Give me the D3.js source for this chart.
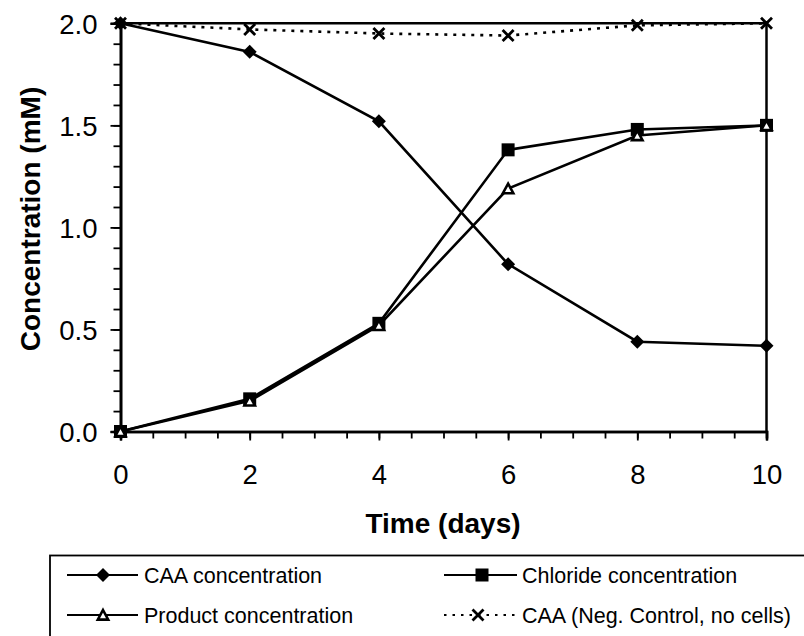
<!DOCTYPE html>
<html>
<head>
<meta charset="utf-8">
<script src="https://cdn.jsdelivr.net/npm/d3@7"></script>
<style>
  html, body { margin: 0; padding: 0; background: #fff; }
  svg { display: block; font-family: "Liberation Sans", Arial, sans-serif; }
</style>
</head>
<body>
<svg id="chart" width="804" height="636"></svg>
<script>
// ---- data ----
const days = [0, 2, 4, 6, 8, 10];
const caa = [2.00, 1.86, 1.52, 0.82, 0.44, 0.42];
const chloride = [0.00, 0.16, 0.53, 1.38, 1.48, 1.50];
const product = [0.00, 0.15, 0.52, 1.19, 1.45, 1.50];
const negControl = [2.00, 1.97, 1.95, 1.94, 1.99, 2.00];
const seriesNames = ["CAA concentration", "Chloride concentration", "Product concentration", "CAA (Neg. Control, no cells)"];
const xTicks = [0, 2, 4, 6, 8, 10];
const xMinorTicks = [0, 0.5, 1, 1.5, 2, 2.5, 3, 3.5, 4, 4.5, 5, 5.5, 6, 6.5, 7, 7.5, 8, 8.5, 9, 9.5, 10];
const yTicks = [0.0, 0.5, 1.0, 1.5, 2.0];
const yMinorTicks = [0, 0.1, 0.2, 0.3, 0.4, 0.5, 0.6, 0.7, 0.8, 0.9, 1.0, 1.1, 1.2, 1.3, 1.4, 1.5, 1.6, 1.7, 1.8, 1.9, 2.0];
const xTitle = "Time (days)";
const yTitle = "Concentration (mM)";

// ---- layout ----
const svg = d3.select("#chart");
svg.append("rect").attr("width", 804).attr("height", 636).attr("fill", "#fff");

const x = d3.scaleLinear().domain([0, 10]).range([120.5, 766.5]);
const y = d3.scaleLinear().domain([0, 2]).range([431.5, 23.3]);

const series = [
  { name: seriesNames[0], values: caa, marker: "diamond", dash: null },
  { name: seriesNames[1], values: chloride, marker: "square", dash: null },
  { name: seriesNames[2], values: product, marker: "triangle", dash: null },
  { name: seriesNames[3], values: negControl, marker: "cross", dash: "3,6" }
];

function drawMarker(g, type) {
  if (type === "diamond") {
    g.append("path").attr("d", "M0,-7L7,0L0,7L-7,0Z").attr("fill", "#000");
  } else if (type === "square") {
    g.append("rect").attr("x", -6.5).attr("y", -6.5).attr("width", 13).attr("height", 13).attr("fill", "#000");
  } else if (type === "triangle") {
    g.append("path").attr("d", "M0,-5L5.2,4.6L-5.2,4.6Z").attr("fill", "#fff")
      .attr("stroke", "#000").attr("stroke-width", 2.6).attr("stroke-linejoin", "miter");
  } else if (type === "cross") {
    g.append("path").attr("d", "M-5.5,-5.5L5.5,5.5M-5.5,5.5L5.5,-5.5").attr("fill", "none")
      .attr("stroke", "#000").attr("stroke-width", 2.8);
  }
}

// ---- frame (top & right) ----
svg.append("line").attr("x1", x(0)).attr("x2", x(10)).attr("y1", y(2)).attr("y2", y(2))
  .attr("stroke", "#000").attr("stroke-width", 2.5);
svg.append("line").attr("x1", x(10)).attr("x2", x(10)).attr("y1", y(2)).attr("y2", y(0))
  .attr("stroke", "#000").attr("stroke-width", 2.5);

// ---- axes ----
const xMinorAxis = d3.axisBottom(x).tickValues(xMinorTicks).tickSize(7).tickFormat("");
const xAxis = d3.axisBottom(x).tickValues(xTicks).tickSize(9).tickPadding(24).tickFormat(d3.format("d"));
const yMinorAxis = d3.axisLeft(y).tickValues(yMinorTicks).tickSize(7).tickFormat("");
const yAxis = d3.axisLeft(y).tickValues(yTicks).tickSize(10).tickPadding(13).tickFormat(d3.format(".1f"));

function styleAxis(g) {
  g.select(".domain").attr("stroke", "#000").attr("stroke-width", 2.6);
  g.selectAll(".tick line").attr("stroke", "#000").attr("stroke-width", 1.8);
  g.selectAll(".tick text").attr("fill", "#000").style("font-size", "27.5px")
    .style("font-family", "'Liberation Sans', Arial, sans-serif");
}

svg.append("g").attr("transform", `translate(0,${y(0)})`).call(xMinorAxis).call(styleAxis);
svg.append("g").attr("transform", `translate(0,${y(0)})`).call(xAxis).call(styleAxis)
  .selectAll(".tick text").attr("dy", "0").attr("y", 52.5);
svg.append("g").attr("transform", `translate(${x(0)},0)`).call(yMinorAxis).call(styleAxis);
svg.append("g").attr("transform", `translate(${x(0)},0)`).call(yAxis).call(styleAxis)
  .selectAll(".tick text").attr("dy", "0.36em").attr("x", -23);

// axis titles
svg.append("text").attr("x", 443).attr("y", 533).attr("text-anchor", "middle")
  .style("font-size", "28px").style("font-weight", "bold").text(xTitle);
svg.append("text").attr("transform", "translate(40,219) rotate(-90)").attr("text-anchor", "middle")
  .style("font-size", "28px").style("font-weight", "bold").text(yTitle);

// ---- lines ----
const line = d3.line().x((d, i) => x(days[i])).y(d => y(d));
series.forEach(s => {
  svg.append("path").datum(s.values).attr("d", line).attr("fill", "none")
    .attr("stroke", "#000").attr("stroke-width", 2.6)
    .attr("stroke-dasharray", s.dash);
});

// ---- markers ----
series.forEach(s => {
  s.values.forEach((v, i) => {
    const g = svg.append("g").attr("transform", `translate(${x(days[i])},${y(v)})`);
    drawMarker(g, s.marker);
  });
});

// ---- legend ----
svg.append("rect").attr("x", 50).attr("y", 555.5).attr("width", 800).attr("height", 120)
  .attr("fill", "none").attr("stroke", "#000").attr("stroke-width", 1.8);

const legendPos = [
  { lx1: 67, lx2: 138, mx: 103, tx: 144, cy: 575 },
  { lx1: 444, lx2: 517, mx: 482, tx: 522, cy: 575 },
  { lx1: 67, lx2: 138, mx: 103, tx: 144, cy: 615 },
  { lx1: 444, lx2: 517, mx: 478, tx: 522, cy: 615 }
];
series.forEach((s, i) => {
  const p = legendPos[i];
  svg.append("line").attr("x1", p.lx1).attr("x2", p.lx2).attr("y1", p.cy).attr("y2", p.cy)
    .attr("stroke", "#000").attr("stroke-width", 2.2).attr("stroke-dasharray", s.dash ? "2.5,6" : null);
  const g = svg.append("g").attr("transform", `translate(${p.mx},${p.cy})`);
  drawMarker(g, s.marker);
  svg.append("text").attr("x", p.tx).attr("y", p.cy + 7.5)
    .style("font-size", "21.5px").attr("fill", "#000").text(s.name);
});
</script>
</body>
</html>
